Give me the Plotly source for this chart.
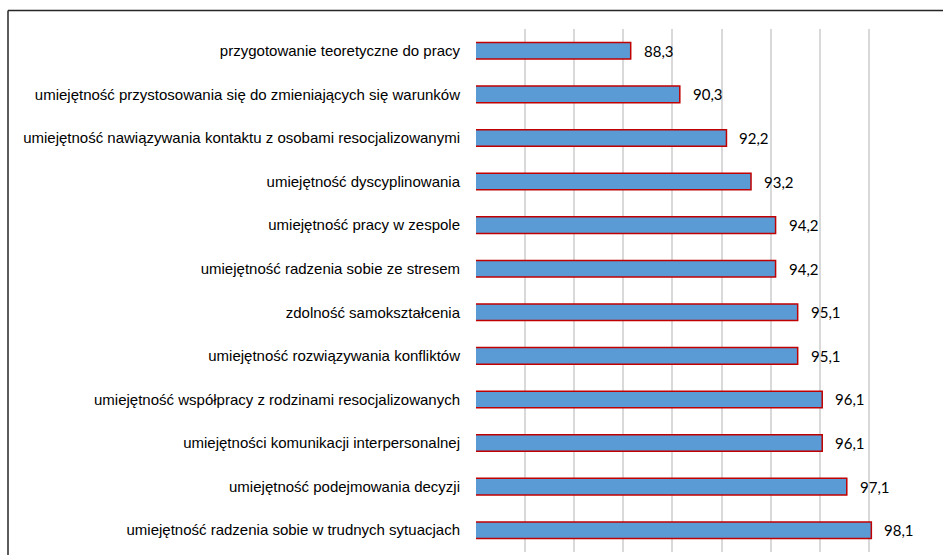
import plotly.graph_objects as go

categories = [
    "przygotowanie teoretyczne do pracy",
    "umiejętność przystosowania się do zmieniających się warunków",
    "umiejętność nawiązywania kontaktu z osobami resocjalizowanymi",
    "umiejętność dyscyplinowania",
    "umiejętność pracy w zespole",
    "umiejętność radzenia sobie ze stresem",
    "zdolność samokształcenia",
    "umiejętność rozwiązywania konfliktów",
    "umiejętność współpracy z rodzinami resocjalizowanych",
    "umiejętności komunikacji interpersonalnej",
    "umiejętność podejmowania decyzji",
    "umiejętność radzenia sobie w trudnych sytuacjach",
]
values = [88.3, 90.3, 92.2, 93.2, 94.2, 94.2, 95.1, 95.1, 96.1, 96.1, 97.1, 98.1]
labels = [f"{v:.1f}".replace(".", ",") for v in values]

fig = go.Figure()
fig.add_trace(go.Bar(
    y=categories, x=values, orientation="h", width=0.38,
    marker=dict(color="#5B9BD5", line=dict(color="#C00000", width=1.5)),
    hoverinfo="skip",
))

for c, v, t in zip(categories, values, labels):
    fig.add_annotation(x=v, y=c, text=t, xanchor="left", yanchor="middle",
                       xshift=11, showarrow=False,
                       font=dict(family="Lato, Carlito, Open Sans", size=15, color="#000000"))

# chart frame lines (top and left)
fx = (8 - 476) / 442
fy = (555 - 10.5 - 3) / 523
fig.add_shape(type="line", xref="paper", yref="paper", x0=fx, x1=2, y0=fy, y1=fy,
              line=dict(color="#262626", width=1.5))
fig.add_shape(type="line", xref="paper", yref="paper", x0=fx, x1=fx, y0=-1, y1=fy,
              line=dict(color="#262626", width=1.5))

fig.update_layout(
    width=943, height=555,
    margin=dict(l=476, r=25, t=29, b=3),
    paper_bgcolor="white", plot_bgcolor="white",
    showlegend=False,
)
fig.update_xaxes(range=[82, 100], dtick=2, tick0=82, showgrid=True, gridcolor="#D9D9D9",
                 gridwidth=1.5, showticklabels=False, zeroline=False, showline=False)
fig.update_yaxes(autorange="reversed", showgrid=False, showline=False, zeroline=False,
                 ticks="outside", ticklen=12, tickcolor="rgba(0,0,0,0)",
                 tickfont=dict(family="Liberation Sans Narrow, Arial Narrow, Liberation Sans", size=15, color="#000000"))

fig.write_html("out.html", config={"displayModeBar": False},
               post_script="document.body.style.margin='0';document.body.style.overflow='hidden';")
